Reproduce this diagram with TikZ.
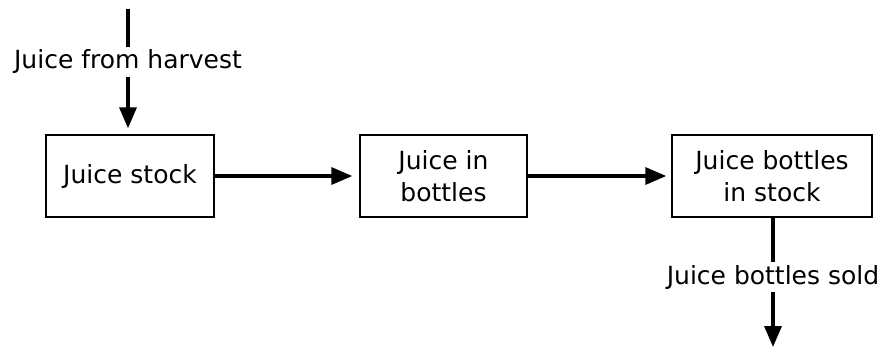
\documentclass[tikz,border=0pt]{standalone}
\usepackage{fontspec}
\setmainfont{DejaVu Sans}
\usetikzlibrary{arrows.meta,positioning}
\tikzset{
  stock/.style={draw, line width=1.4pt, minimum width=#1, minimum height=82pt, inner sep=0pt, align=center, font=\fontsize{25}{32}\selectfont},
  flow/.style={-{Triangle[length=21pt,width=17pt]}, line width=3.4pt},
  flowlabel/.style={fill=white, inner sep=3pt, font=\fontsize{25}{32}\selectfont},
}

\begin{document}
\begin{tikzpicture}[x=1pt, y=-1pt]
\useasboundingbox (0,0) rectangle (882,349);

% Stocks
\node[stock=168pt] (juicestock) at (130,176) {Juice stock};
\node[stock=167pt] (inbottles) at (443.5,176) {Juice in\\bottles};
\node[stock=200pt] (bottlestock) at (772,176) {Juice bottles\\in stock};

% Source and sink
\coordinate (harvest) at (128,9);
\coordinate (sold) at (773,347);

% Flows
\draw[flow, shorten >=6pt] (harvest) -- node[flowlabel, pos=0.42] (harvestlabel) {Juice from harvest} (harvest |- juicestock.north);
\draw[flow, shorten >=7pt] (juicestock) -- (inbottles);
\draw[flow, shorten >=5pt] (inbottles) -- (bottlestock);
\draw[flow] (bottlestock.south -| sold) -- node[flowlabel, pos=0.46] (soldlabel) {Juice bottles sold} (sold);

\end{tikzpicture}
\end{document}
